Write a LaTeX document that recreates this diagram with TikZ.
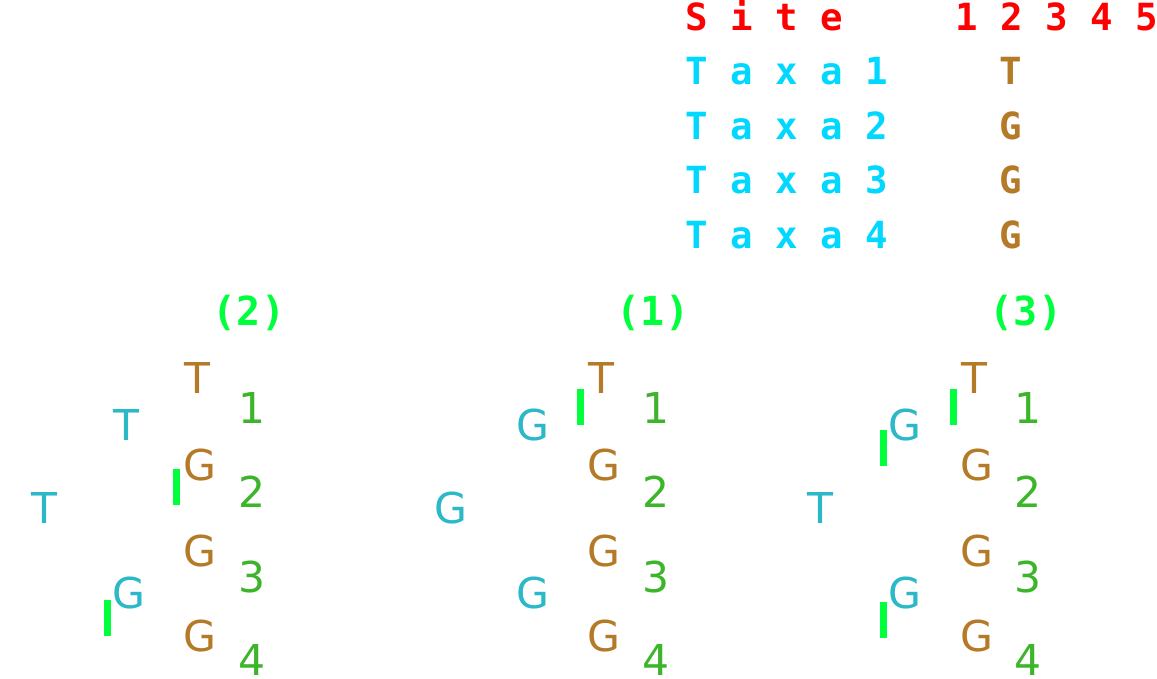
\documentclass[tikz,border=0pt]{standalone}
\usepackage{fontspec}
\setmainfont{DejaVu Sans}
\setmonofont{DejaVu Sans Mono}
\usetikzlibrary{positioning}
\definecolor{siteRed}{HTML}{FF0000}
\definecolor{taxaCyan}{HTML}{00D8FF}
\definecolor{leafTeal}{HTML}{2BB8C8}
\definecolor{stateBrown}{HTML}{B57A28}
\definecolor{numGreen}{HTML}{3CB52A}
\definecolor{mutGreen}{HTML}{00FF3C}

\begin{document}
\begin{tikzpicture}[
  x=1pt, y=-1pt,
  monotxt/.style={inner sep=0pt, font=\fontsize{37.4}{40}\ttfamily\bfseries},
  hdr/.style={monotxt, anchor=base west, text=siteRed},
  taxon/.style={monotxt, anchor=base west, text=taxaCyan},
  state/.style={monotxt, anchor=base, text=stateBrown},
  treelbl/.style={inner sep=0pt, anchor=base, font=\fontsize{40}{44}\ttfamily\bfseries, text=mutGreen},
  treetxt/.style={inner sep=0pt, anchor=base, font=\fontsize{42.5}{50}\selectfont},
  leaf/.style={treetxt, text=leafTeal},
  anc/.style={treetxt, text=stateBrown},
  num/.style={treetxt, text=numGreen},
  mut/.style={draw=mutGreen, line width=7pt}
]
\useasboundingbox (0,0) rectangle (1157,678);

% alignment
\node[hdr] (site) at (685,30) {S i t e};
\node[hdr] (sites) at (955,30) {1 2 3 4 5};
\foreach \i/\y/\s in {1/84/T, 2/139/G, 3/193/G, 4/248/G} {
  \node[taxon] (taxa\i) at (685,\y) {T a x a \i};
  \node[state] (st\i) at (1011,\y) {\s};
}

% trees: label, site states and taxon numbers
\foreach \t/\xa/\xn in {2/200/252, 1/604/656, 3/977/1028} {
  \node[treelbl] (lbl\t) at (\xa+49,325) {(\t)};
  \node[anc] (t\t-a1) at (\xa-3,393) {T};
  \foreach \i/\y in {2/480, 3/566, 4/651}
    \node[anc] (t\t-a\i) at (\xa,\y) {G};
  \foreach \i/\y in {1/423, 2/507, 3/592, 4/675}
    \node[num] (t\t-n\i) at (\xn,\y) {\i};
}

% tree (2)
\node[leaf] (t2-u) at (126,440) {T};
\node[leaf] (t2-r) at (44,523) {T};
\node[leaf] (t2-v) at (129,608) {G};
\draw[mut] (176.5,469) -- (176.5,505);
\draw[mut] (107.5,600) -- (107.5,636);

% tree (1)
\node[leaf] (t1-u) at (533,440) {G};
\node[leaf] (t1-r) at (451,523) {G};
\node[leaf] (t1-v) at (533,608) {G};
\draw[mut] (580,389) -- (580,425);

% tree (3)
\node[leaf] (t3-u) at (905,440) {G};
\node[leaf] (t3-r) at (820,523) {T};
\node[leaf] (t3-v) at (905,608) {G};
\draw[mut] (953,389) -- (953,425);
\draw[mut] (883,430) -- (883,466);
\draw[mut] (883,602) -- (883,638);
\end{tikzpicture}
\end{document}
